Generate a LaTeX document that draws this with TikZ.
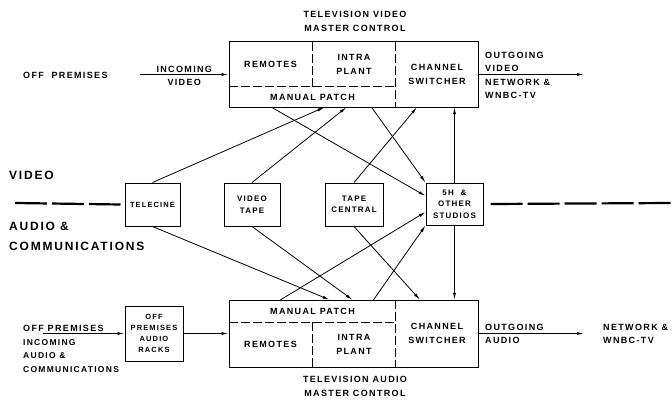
\documentclass[tikz,border=0pt]{standalone}
\usepackage{fontspec}
\setmainfont{Liberation Sans}[LetterSpace=15]
\usetikzlibrary{arrows.meta, positioning, calc}

\begin{document}
\begin{tikzpicture}[
  x=1pt, y=-1pt,
  every node/.style={font=\bfseries\fontsize{9}{13.5}\selectfont, inner sep=1pt},
  unit/.style={rectangle, draw, line width=1pt, inner sep=0pt, align=center, font=\bfseries\fontsize{8}{11.5}\selectfont},
  cell/.style={rectangle, inner sep=0pt, align=center},
  part/.style={line width=0.9pt, dash pattern=on 9pt off 3pt},
  feed/.style={-{Latex[length=7pt, width=3pt]}, line width=0.8pt},
  split/.style={line width=2.2pt, dash pattern=on 32pt off 5pt},
  head/.style={font=\bfseries\fontsize{12}{20}\selectfont, align=left, anchor=west},
]
  \useasboundingbox (0,0) rectangle (672,404);

  \node[rectangle, draw, line width=1pt, minimum width=249pt, minimum height=65pt] (vmc) at (353.5,74.5) {};
  \node[cell, minimum width=83pt, minimum height=45pt] (remV) at (270.5,64.5) {REMOTES};
  \node[cell, minimum width=84pt, minimum height=45pt] (intV) at (354,64.5) {INTRA\\PLANT};
  \node[cell, minimum width=167pt, minimum height=20pt] (patV) at (312.5,97) {MANUAL PATCH};
  \node[cell, minimum width=82pt, minimum height=65pt] (swV) at (437,74.5) {CHANNEL\\SWITCHER};
  \draw[part] (patV.north west) -- (patV.north east);
  \draw[part] (remV.north east) -- (remV.south east);
  \draw[part] (swV.north west) -- (swV.south west);
  \node[align=center] (vidT) at (355,21.5) {TELEVISION VIDEO\\MASTER CONTROL};

  \node[rectangle, draw, line width=1pt, minimum width=249pt, minimum height=67pt] (vac) at (353.5,333.5) {};
  \node[cell, minimum width=167pt, minimum height=22pt] (patA) at (312.5,311) {MANUAL PATCH};
  \node[cell, minimum width=83pt, minimum height=45pt] (remA) at (270.5,344.5) {REMOTES};
  \node[cell, minimum width=84pt, minimum height=45pt] (intA) at (354,344.5) {INTRA\\PLANT};
  \node[cell, minimum width=82pt, minimum height=67pt] (swA) at (437,333.5) {CHANNEL\\SWITCHER};
  \draw[part] (patA.south west) -- (patA.south east);
  \draw[part] (remA.north east) -- (remA.south east);
  \draw[part] (swA.north west) -- (swA.south west);
  \node[align=center] (audT) at (355,386.5) {TELEVISION AUDIO\\MASTER CONTROL};

  \node[unit, minimum width=55pt, minimum height=43pt, font=\bfseries\fontsize{7.5}{10}\selectfont] (telecine) at (152.5,204.5) {TELECINE};
  \node[unit, minimum width=56pt, minimum height=43pt] (vtape) at (252,204.5) {VIDEO\\TAPE};
  \node[unit, minimum width=58pt, minimum height=43pt] (tcent) at (354,204.5) {TAPE\\CENTRAL};
  \node[unit, minimum width=57pt, minimum height=42pt] (studios) at (454.5,204) {5H \ \&\\OTHER\\STUDIOS};
  \node[unit, minimum width=58pt, minimum height=55pt, font=\bfseries\fontsize{7.5}{11}\selectfont] (racks) at (154,333.5) {OFF\\PREMISES\\AUDIO\\RACKS};

  \node[head] (vidH) at (8,175) {VIDEO};
  \node[head] (audH) at (8,236) {AUDIO \&\\COMMUNICATIONS};
  \coordinate (sepL) at (15,203);
  \coordinate (sepR) at (672,203);
  \draw[split] (sepL) -- ([xshift=-4pt]telecine.west);
  \draw[split] ([xshift=7pt]studios.east) -- (sepR);

  \node[anchor=west] (offV) at (22,75) {OFF \ PREMISES};
  \coordinate (inV) at (140,74.5);
  \draw[feed] (inV) -- node[above=1pt]{INCOMING} node[below=3pt]{VIDEO} (vmc.west);
  \coordinate (outV) at (584,74.5);
  \draw[feed] (vmc.east) -- (outV);
  \node[anchor=south west, align=left] (outVt) at (484,73) {OUTGOING\\VIDEO};
  \node[anchor=north west, align=left] (netV) at (484,78) {NETWORK \&\\WNBC-TV};

  \node[anchor=south west] (offA) at (22,333) {OFF PREMISES};
  \node[anchor=north west, align=left, font=\bfseries\fontsize{8.5}{13.5}\selectfont] (incA) at (22,338) {INCOMING\\AUDIO \&\\COMMUNICATIONS};
  \coordinate (inA) at (43,333.5);
  \draw[feed] (inA) -- (racks.west);
  \draw[feed] (racks.east) -- (vac.west);
  \coordinate (outA) at (584,333.5);
  \draw[feed] (vac.east) -- (outA);
  \node[anchor=south west] (outAt) at (484,332) {OUTGOING};
  \node[anchor=north west] (outAb) at (484,336) {AUDIO};
  \node[anchor=west, align=left] (netA) at (602,334) {NETWORK \&\\WNBC-TV};

  \draw[feed] (telecine.north) -- ([xshift=12pt]patV.south);
  \draw[feed] (vtape.north) -- ([xshift=34pt]patV.south);
  \draw[feed] (tcent.north) -- ([xshift=-20pt]swV.south);
  \draw[feed] ([xshift=-41pt]patV.south) -- ([yshift=8pt]studios.west);
  \draw[feed] ([xshift=59pt]patV.south) -- (studios.north west);
  \draw[feed] (studios.north) -- (studios.north |- swV.south);

  \draw[feed] (telecine.south) -- ([xshift=17pt]patA.north);
  \draw[feed] (vtape.south) -- ([xshift=40pt]patA.north);
  \draw[feed] (tcent.south) -- ([xshift=-17pt]swA.north);
  \draw[feed] ([xshift=-32pt]patA.north) -- ([yshift=-8pt]studios.west);
  \draw[feed] ([xshift=61pt]patA.north) -- (studios.south west);
  \draw[feed] (studios.south) -- (studios.south |- swA.north);
\end{tikzpicture}
\end{document}
